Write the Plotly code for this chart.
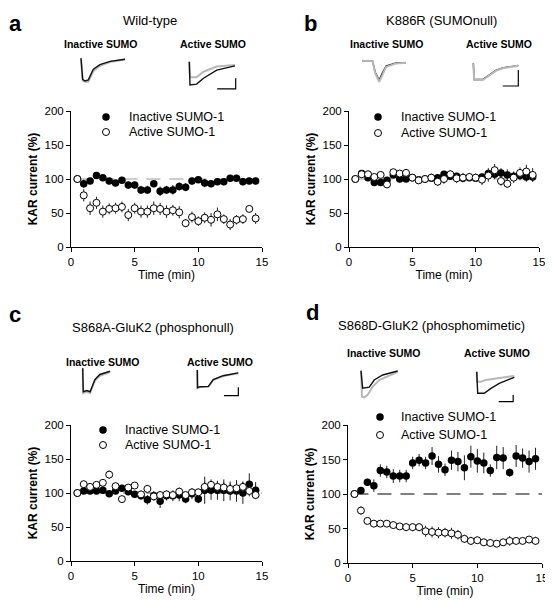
import plotly.graph_objects as go

# page body has an 8px margin: the figure is drawn at (8, 8) in the window
OFF = 8
W, H = 553 - OFF, 600 - OFF
FONT = "Liberation Sans, Arial, sans-serif"

# ---------------- data ----------------
time_min = [0.5, 1.0, 1.5, 2.0, 2.5, 3.0, 3.5, 4.0, 4.5, 5.0, 5.5, 6.0, 6.5, 7.0, 7.5,
            8.0, 8.5, 9.0, 9.5, 10.0, 10.5, 11.0, 11.5, 12.0, 12.5, 13.0, 13.5, 14.0, 14.5]
x_ticks = [0, 5, 10, 15]
y_ticks = [0, 50, 100, 150, 200]

series_names = ["Inactive SUMO-1", "Active SUMO-1"]
panel_letters = ["a", "b", "c", "d"]
panel_titles = ["Wild-type", "K886R (SUMOnull)", "S868A-GluK2 (phosphonull)",
                "S868D-GluK2 (phosphomimetic)"]
trace_labels = ["Inactive SUMO", "Active SUMO"]

# panel a (wild-type)
a_inactive = [100, 93, 97, 105, 102, 97, 94, 98, 91, 91, 84, 84, 93, 82, 84, 84, 89, 88,
              97, 99, 94, 93, 96, 96, 101, 101, 96, 97, 97]
a_inactive_err = [0, 6, 4, 4, 5, 4, 4, 3, 5, 5, 6, 6, 5, 7, 6, 7, 6, 6, 5, 5, 6, 5, 5, 5,
                  5, 5, 5, 5, 5]
a_active = [100, 76, 57, 65, 52, 56, 57, 59, 47, 57, 52, 52, 57, 56, 52, 54, 51, 35, 44,
            38, 43, 40, 48, 41, 33, 40, 41, 56, 42]
a_active_err = [0, 9, 10, 9, 9, 8, 8, 8, 9, 8, 9, 9, 10, 9, 9, 8, 9, 6, 8, 7, 8, 10, 10,
                7, 8, 7, 7, 4, 8]

# panel b (K886R)
b_inactive = [100, 108, 102, 95, 95, 98, 106, 100, 100, 102, 99, 100, 101, 102, 107, 104,
              104, 101, 102, 101, 103, 108, 107, 109, 106, 104, 105, 103, 103]
b_inactive_err = [0, 4, 4, 4, 4, 4, 4, 4, 4, 4, 4, 4, 4, 5, 5, 5, 5, 5, 5, 5, 5, 8, 7, 7,
                  8, 7, 7, 7, 7]
b_active = [100, 107, 107, 103, 106, 92, 110, 108, 109, 102, 98, 100, 102, 96, 100, 107,
            101, 102, 103, 102, 99, 105, 113, 97, 93, 102, 109, 111, 106]
b_active_err = [0, 5, 4, 4, 5, 5, 4, 4, 5, 4, 5, 5, 6, 6, 7, 6, 7, 7, 6, 6, 8, 9, 9, 7, 6,
                8, 8, 10, 10]

# panel c (S868A)
c_inactive = [100, 103, 103, 103, 104, 99, 103, 107, 102, 98, 96, 90, 96, 88, 96, 96, 97,
              91, 99, 91, 104, 104, 104, 104, 103, 103, 100, 113, 104]
c_inactive_err = [0, 4, 4, 4, 4, 4, 4, 5, 5, 5, 6, 7, 7, 10, 7, 8, 9, 6, 8, 6, 20, 14, 14,
                  16, 14, 16, 16, 16, 12]
c_active = [100, 113, 109, 112, 115, 127, 110, 91, 108, 111, 98, 106, 95, 97, 98, 97, 102,
            97, 101, 101, 109, 112, 109, 108, 106, 107, 109, 103, 97]
c_active_err = [0, 4, 4, 4, 5, 6, 5, 4, 4, 4, 5, 5, 6, 6, 6, 6, 6, 6, 6, 6, 8, 8, 8, 8, 8,
                8, 8, 8, 6]

# panel d (S868D)
d_inactive = [100, 105, 117, 112, 134, 132, 126, 126, 126, 145, 149, 145, 155, 143, 135,
              149, 147, 138, 154, 148, 145, 134, 153, 152, 131, 155, 152, 147, 151]
d_inactive_err = [0, 4, 5, 9, 9, 9, 10, 9, 9, 9, 9, 9, 13, 12, 9, 14, 14, 18, 16, 17, 15,
                  9, 17, 16, 6, 16, 14, 16, 16]
d_active = [100, 76, 61, 57, 57, 57, 55, 53, 52, 52, 52, 46, 45, 44, 44, 43, 41, 35, 32,
            33, 30, 29, 28, 30, 32, 32, 32, 34, 32]
d_active_err = [0, 6, 3, 3, 3, 3, 5, 5, 6, 6, 6, 8, 8, 8, 7, 8, 7, 6, 6, 5, 5, 5, 4, 5, 7,
                5, 4, 4, 6]

baseline_x = [0.5, 15]
baseline_y = [100, 100]

# example current traces (time in % of sweep, normalised current)
a_inact_t = [0, 3.8, 9, 16.6, 28, 43, 66, 100]
a_inact_gray = [0, -0.95, -1.0, -1.0, -0.55, -0.32, -0.16, -0.05]
a_inact_black = [0, -0.9, -0.97, -0.92, -0.47, -0.27, -0.13, -0.04]
a_act_t = [0, 1.5, 16, 31, 60, 100]
a_act_gray = [0, -0.67, -0.67, -0.43, -0.21, -0.14]
a_act_black = [0, -1.0, -0.96, -0.71, -0.36, -0.18]

b_inact_t = [0, 24, 30, 39, 46, 54.5, 77, 100]
b_inact_gray = [0, -0.02, -0.6, -1.0, -0.7, -0.3, -0.13, -0.1]
b_inact_black = [0, -0.02, -0.55, -0.92, -0.6, -0.26, -0.11, -0.09]
b_act_t = [0, 2, 21, 36, 50, 65, 95, 100]
b_act_gray = [0, -1.0, -1.0, -0.7, -0.45, -0.3, -0.16, -0.14]
b_act_black = [0, -0.95, -0.97, -0.66, -0.42, -0.28, -0.15, -0.13]

c_inact_t = [0, 2, 15, 27, 45, 63, 100]
c_inact_gray = [0, -1.0, -0.95, -1.0, -0.5, -0.3, -0.15]
c_inact_black = [0, -0.95, -0.9, -0.95, -0.45, -0.25, -0.12]
c_act_t = [0, 0.5, 6.5, 27, 39, 63, 100]
c_act_gray = [0, -0.96, -0.9, -0.88, -0.53, -0.32, -0.17]
c_act_black = [0, -0.93, -0.88, -0.86, -0.5, -0.3, -0.15]

d_inact_gray_t = [0, 2.7, 9, 18, 32, 50, 100]
d_inact_gray = [0, -0.98, -1.0, -0.91, -0.6, -0.35, -0.04]
d_inact_black_t = [0, 4.6, 22.6, 36, 59, 100]
d_inact_black = [0, -0.66, -0.62, -0.35, -0.16, -0.01]
d_act_gray_t = [0, 0.8, 11.4, 24.7, 51, 100]
d_act_gray = [0, -0.46, -0.46, -0.38, -0.31, -0.2]
d_act_black_t = [0, 2.7, 20, 38, 60, 100]
d_act_black = [0, -1.0, -1.0, -0.77, -0.54, -0.26]

# scale bars (time, current) for active-SUMO traces
a_bar_t = [61, 101.5, 101.5]
a_bar_i = [-1.17, -1.17, -0.71]
b_bar_t = [65.5, 100, 100]
b_bar_i = [-1.36, -1.36, -0.4]
c_bar_t = [65, 100, 100]
c_bar_i = [-1.35, -1.35, -0.91]
d_bar_t = [58.5, 97, 97]
d_bar_i = [-1.39, -1.39, -1.08]


# ---------------- layout helpers (window pixels -> paper) ----------------
def px(x):
    return (x - OFF) / W


def py(y):
    return 1 - (y - OFF) / H


def px_dom_x(x0, x1):
    return [px(x0), px(x1)]


def px_dom_y(ytop, ybot):
    return [py(ybot), py(ytop)]


fig = go.Figure()
layout = dict(
    width=W, height=H, margin=dict(l=0, r=0, t=0, b=0, autoexpand=False),
    paper_bgcolor="white", plot_bgcolor="rgba(0,0,0,0)",
    showlegend=False, font=dict(family=FONT, color="black", size=11),
    annotations=[],
)

panels = [
    # (x0, x1, ytop(200), ybot(0)) in window pixels
    (71, 262, 111, 247),
    (349, 539, 111, 247),
    (71, 262, 425, 561),
    (348, 542, 425, 563),
]
panel_data = [
    (a_inactive, a_inactive_err, a_active, a_active_err, "#9a9a9a"),
    (b_inactive, b_inactive_err, b_active, b_active_err, "#9a9a9a"),
    (c_inactive, c_inactive_err, c_active, c_active_err, "#555555"),
    (d_inactive, d_inactive_err, d_active, d_active_err, "#000000"),
]

for k, ((x0, x1, yt, yb), (inc, ince, act, acte, dcol)) in enumerate(zip(panels, panel_data)):
    n = "" if k == 0 else str(k + 1)
    xa, ya = "x" + n, "y" + n
    fig.add_trace(go.Scatter(x=baseline_x, y=baseline_y, mode="lines", xaxis=xa, yaxis=ya,
                             line=dict(color=dcol, width=1, dash="14px,9px"), hoverinfo="skip"))
    fig.add_trace(go.Scatter(x=time_min, y=inc, mode="markers", name=series_names[0],
                             xaxis=xa, yaxis=ya,
                             marker=dict(color="black", size=7.5, line=dict(width=0)),
                             error_y=dict(type="data", array=ince, color="#222",
                                          thickness=1, width=0)))
    fig.add_trace(go.Scatter(x=time_min, y=act, mode="markers", name=series_names[1],
                             xaxis=xa, yaxis=ya,
                             marker=dict(color="white", size=7, line=dict(color="black", width=1)),
                             error_y=dict(type="data", array=acte, color="#222",
                                          thickness=1, width=0)))
    axcommon = dict(showgrid=False, zeroline=False, showline=True, linecolor="black",
                    linewidth=1, ticks="outside", ticklen=4, tickcolor="black",
                    automargin=False,
                    tickfont=dict(family=FONT, size=11.5, color="black"))
    layout["xaxis" + n] = dict(domain=px_dom_x(x0, x1), range=[0, 15], tickvals=x_ticks,
                               anchor=ya,
                               title=dict(text="Time (min)",
                                          font=dict(family=FONT, size=12, color="black"),
                                          standoff=3),
                               **axcommon)
    layout["yaxis" + n] = dict(domain=px_dom_y(yt, yb), range=[0, 200], tickvals=y_ticks,
                               anchor=xa,
                               title=dict(text="<b>KAR current (%)</b>",
                                          font=dict(family=FONT, size=12, color="black"),
                                          standoff=4),
                               **axcommon)

# ---------------- insets (example traces) ----------------
insets = [
    ((81, 125, 58.3, 81.7), [(a_inact_t, a_inact_gray, "gray"), (a_inact_t, a_inact_black, "black")], None),
    ((189.3, 235, 61.7, 85), [(a_act_t, a_act_gray, "gray"), (a_act_t, a_act_black, "black")], (a_bar_t, a_bar_i)),
    ((362, 406, 60.7, 81.7), [(b_inact_t, b_inact_black, "black"), (b_inact_t, b_inact_gray, "gray")], None),
    ((473.3, 518.3, 63.3, 80), [(b_act_t, b_act_black, "black"), (b_act_t, b_act_gray, "gray")], (b_bar_t, b_bar_i)),
    ((82.7, 110, 368.3, 393), [(c_inact_t, c_inact_gray, "gray"), (c_inact_t, c_inact_black, "black")], None),
    ((197.3, 238.3, 370, 389), [(c_act_t, c_act_gray, "gray"), (c_act_t, c_act_black, "black")], (c_bar_t, c_bar_i)),
    ((361, 397.7, 370.7, 397.3), [(d_inact_gray_t, d_inact_gray, "gray"), (d_inact_black_t, d_inact_black, "black")], None),
    ((476.7, 514.3, 371.7, 393.3), [(d_act_gray_t, d_act_gray, "gray"), (d_act_black_t, d_act_black, "black")], (d_bar_t, d_bar_i)),
]
XR = (-5, 110)
YR = (-1.5, 0.1)
colmap = {"gray": "#b8b8b8", "black": "#111111"}
for j, ((tx0, tx1, ytop, ybot), trs, bar) in enumerate(insets):
    n = str(5 + j)
    ppx = (tx1 - tx0) / 100.0
    ppy = (ybot - ytop)
    left = tx0 + XR[0] * ppx
    right = tx0 + XR[1] * ppx
    top = ytop - YR[1] * ppy
    bottom = ytop - YR[0] * ppy
    for (tt, ii, c) in trs:
        fig.add_trace(go.Scatter(x=tt, y=ii, mode="lines", xaxis="x" + n, yaxis="y" + n,
                                 line=dict(color=colmap[c], width=2 if c == "gray" else 1.4),
                                 hoverinfo="skip"))
    if bar is not None:
        fig.add_trace(go.Scatter(x=bar[0], y=bar[1], mode="lines", xaxis="x" + n, yaxis="y" + n,
                                 line=dict(color="black", width=1.2), hoverinfo="skip"))
    layout["xaxis" + n] = dict(domain=px_dom_x(left, right), range=list(XR), visible=False,
                               anchor="y" + n, automargin=False)
    layout["yaxis" + n] = dict(domain=px_dom_y(top, bottom), range=list(YR), visible=False,
                               anchor="x" + n, automargin=False)

# ---------------- legends (overlay in window-pixel space) ----------------
leg_pos = [(106, 117, 132, 127), (378, 117, 133, 399), (103, 430, 445, 123), (380, 417, 435, 399)]
fig.add_trace(go.Scatter(x=[p[0] for p in leg_pos], y=[p[1] for p in leg_pos], mode="markers",
                         xaxis="x13", yaxis="y13", hoverinfo="skip",
                         marker=dict(color="black", size=7.5, line=dict(width=0))))
fig.add_trace(go.Scatter(x=[p[0] for p in leg_pos], y=[p[2] for p in leg_pos], mode="markers",
                         xaxis="x13", yaxis="y13", hoverinfo="skip",
                         marker=dict(color="white", size=7, line=dict(color="black", width=1))))
layout["xaxis13"] = dict(domain=[0, 1], range=[OFF, OFF + W], visible=False, anchor="y13",
                         automargin=False)
layout["yaxis13"] = dict(domain=[0, 1], range=[OFF + H, OFF], visible=False, anchor="x13",
                         automargin=False)

ann = layout["annotations"]
for (mx, y1, y2, tx) in leg_pos:
    for yy, txt in ((y1, series_names[0]), (y2, series_names[1])):
        ann.append(dict(x=px(tx), y=py(yy), xref="paper", yref="paper", text=txt,
                        showarrow=False, xanchor="left", yanchor="middle",
                        font=dict(size=12.5, family=FONT)))

# panel letters (top-anchored), titles, trace labels
letters_pos = [(15, 8.5), (310, 8.5), (15, 300), (312, 298)]
titles_pos = [(150, 20), (441, 20), (153, 327), (431, 325)]
labels_pos = [((101, 44), (213, 44)), ((387, 44), (499, 44)),
              ((103, 362), (220, 362)), ((384, 353), (497, 353))]
for k in range(4):
    lx, ly = letters_pos[k]
    ann.append(dict(x=px(lx), y=py(ly), xref="paper", yref="paper",
                    text="<b>" + panel_letters[k] + "</b>", showarrow=False,
                    xanchor="center", yanchor="top", font=dict(size=22, family=FONT)))
    tx, ty = titles_pos[k]
    ann.append(dict(x=px(tx), y=py(ty), xref="paper", yref="paper",
                    text=panel_titles[k], showarrow=False,
                    xanchor="center", yanchor="middle", font=dict(size=13, family=FONT)))
    for (lpx, lpy), lab in zip(labels_pos[k], trace_labels):
        ann.append(dict(x=px(lpx), y=py(lpy), xref="paper", yref="paper",
                        text="<b>" + lab + "</b>", showarrow=False,
                        xanchor="center", yanchor="middle", font=dict(size=10.5, family=FONT)))

fig.update_layout(**layout)
fig.write_html("out.html")
